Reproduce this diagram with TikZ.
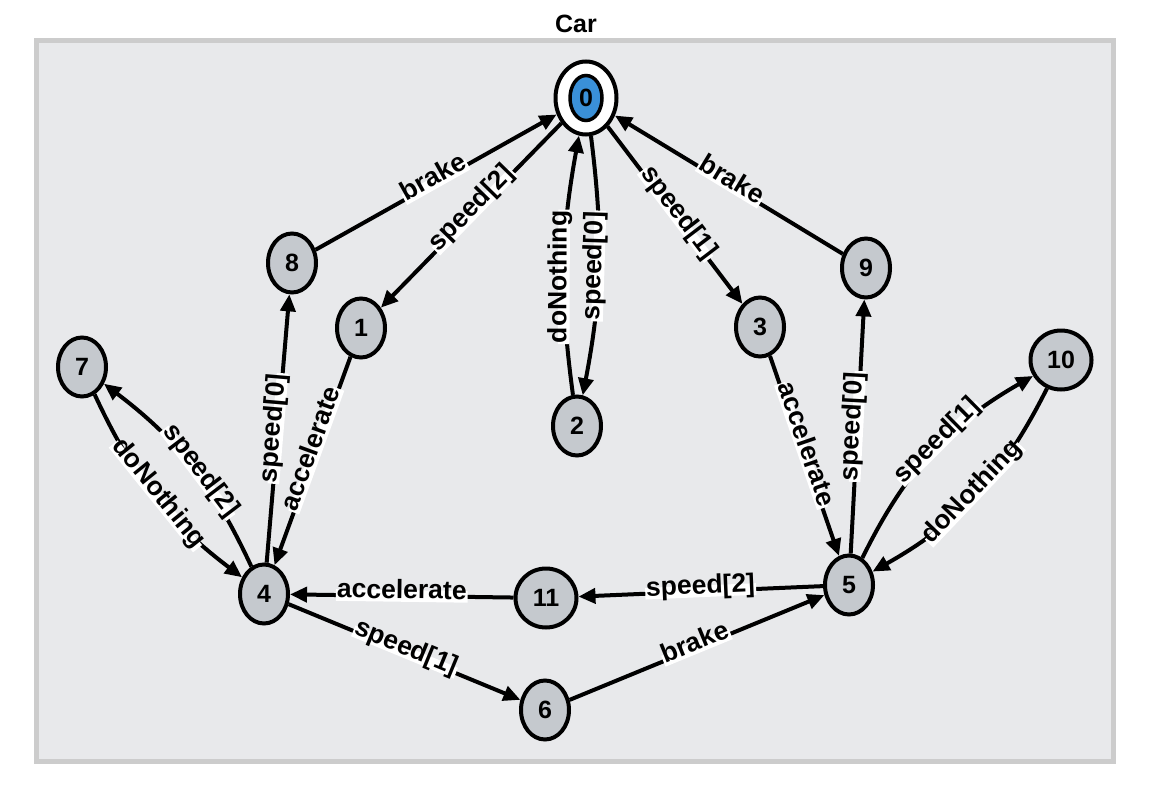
\documentclass[tikz,border=0pt]{standalone}
\usepackage{fontspec}
\setmainfont{Liberation Sans}
\usetikzlibrary{arrows.meta,shapes.geometric}
\definecolor{bgfill}{HTML}{E8E9EB}
\definecolor{bgframe}{HTML}{CCCCCC}
\definecolor{stategray}{HTML}{C5C9CE}
\definecolor{stateblue}{HTML}{3A90D8}
\tikzset{
  x=1pt, y=-1pt,
  state/.style={ellipse, draw=black, line width=4pt, fill=stategray, inner sep=0pt,
    minimum width=48pt, minimum height=59pt, font=\fontsize{25}{28}\selectfont\bfseries},
  widestate/.style={state, minimum width=61pt, minimum height=59pt},
  edge/.style={line width=4pt, draw=black, -{Triangle[length=17pt,width=15pt]}},
  lbl/.style={fill=white, inner xsep=1pt, inner ysep=1pt, sloped,
    text height=0.74em, text depth=0.22em, font=\fontsize{26.5}{29}\selectfont\bfseries}
}
\begin{document}
\begin{tikzpicture}
\useasboundingbox (0,0) rectangle (1170,800);
\draw[line width=5pt, draw=bgframe, fill=bgfill] (36.5,40.5) rectangle (1113.5,761.5);
\node[font=\fontsize{25}{28}\selectfont\bfseries] (title) at (576,24) {Car};

% states
\node[ellipse, draw=black, line width=4pt, fill=white, inner sep=0pt,
  minimum width=61pt, minimum height=73pt] (n0) at (586,98) {};
\node[ellipse, draw=black, line width=3.5pt, fill=stateblue, inner sep=0pt,
  minimum width=32pt, minimum height=45pt, font=\fontsize{25}{28}\selectfont\bfseries] (n0in) at (586,98) {0};
\node[state] (n1) at (361,328) {1};
\node[state] (n2) at (577,426) {2};
\node[state] (n3) at (760,327) {3};
\node[state] (n4) at (264,594) {4};
\node[state] (n5) at (849,585) {5};
\node[state] (n6) at (545,710) {6};
\node[state] (n7) at (82,367) {7};
\node[state] (n8) at (292,263) {8};
\node[state] (n9) at (866,268) {9};
\node[widestate] (n10) at (1061,360) {10};
\node[widestate] (n11) at (546,598) {11};

% transitions
\draw[edge] (n8) -- node[lbl] {brake} (n0);
\draw[edge] (n0) -- node[lbl, pos=0.48] {speed[2]} (n1);
\draw[edge] (n2) to[bend left=9] node[lbl, pos=0.45] {doNothing} (n0);
\draw[edge] (n0) to[bend left=9] node[lbl, pos=0.5] {speed[0]} (n2);
\draw[edge] (n0) -- node[lbl] {speed[1]} (n3);
\draw[edge] (n9) -- node[lbl] {brake} (n0);
\draw[edge] (n1) -- node[lbl, pos=0.45] {accelerate} (n4);
\draw[edge] (n4) -- node[lbl] {speed[0]} (n8);
\draw[edge] (n4) to[bend right=14] node[lbl, pos=0.45] {speed[2]} (n7);
\draw[edge] (n7) to[bend right=14] node[lbl, pos=0.5] {doNothing} (n4);
\draw[edge] (n3) -- node[lbl, pos=0.45] {accelerate} (n5);
\draw[edge] (n5) -- node[lbl] {speed[0]} (n9);
\draw[edge] (n5) to[bend left=17] node[lbl, pos=0.55] {speed[1]} (n10);
\draw[edge] (n10) to[bend left=17] node[lbl, pos=0.5] {doNothing} (n5);
\draw[edge] (n5) -- node[lbl] {speed[2]} (n11);
\draw[edge] (n11) -- node[lbl] {accelerate} (n4);
\draw[edge] (n4) -- node[lbl] {speed[1]} (n6);
\draw[edge] (n6) -- node[lbl] {brake} (n5);
\end{tikzpicture}
\end{document}
